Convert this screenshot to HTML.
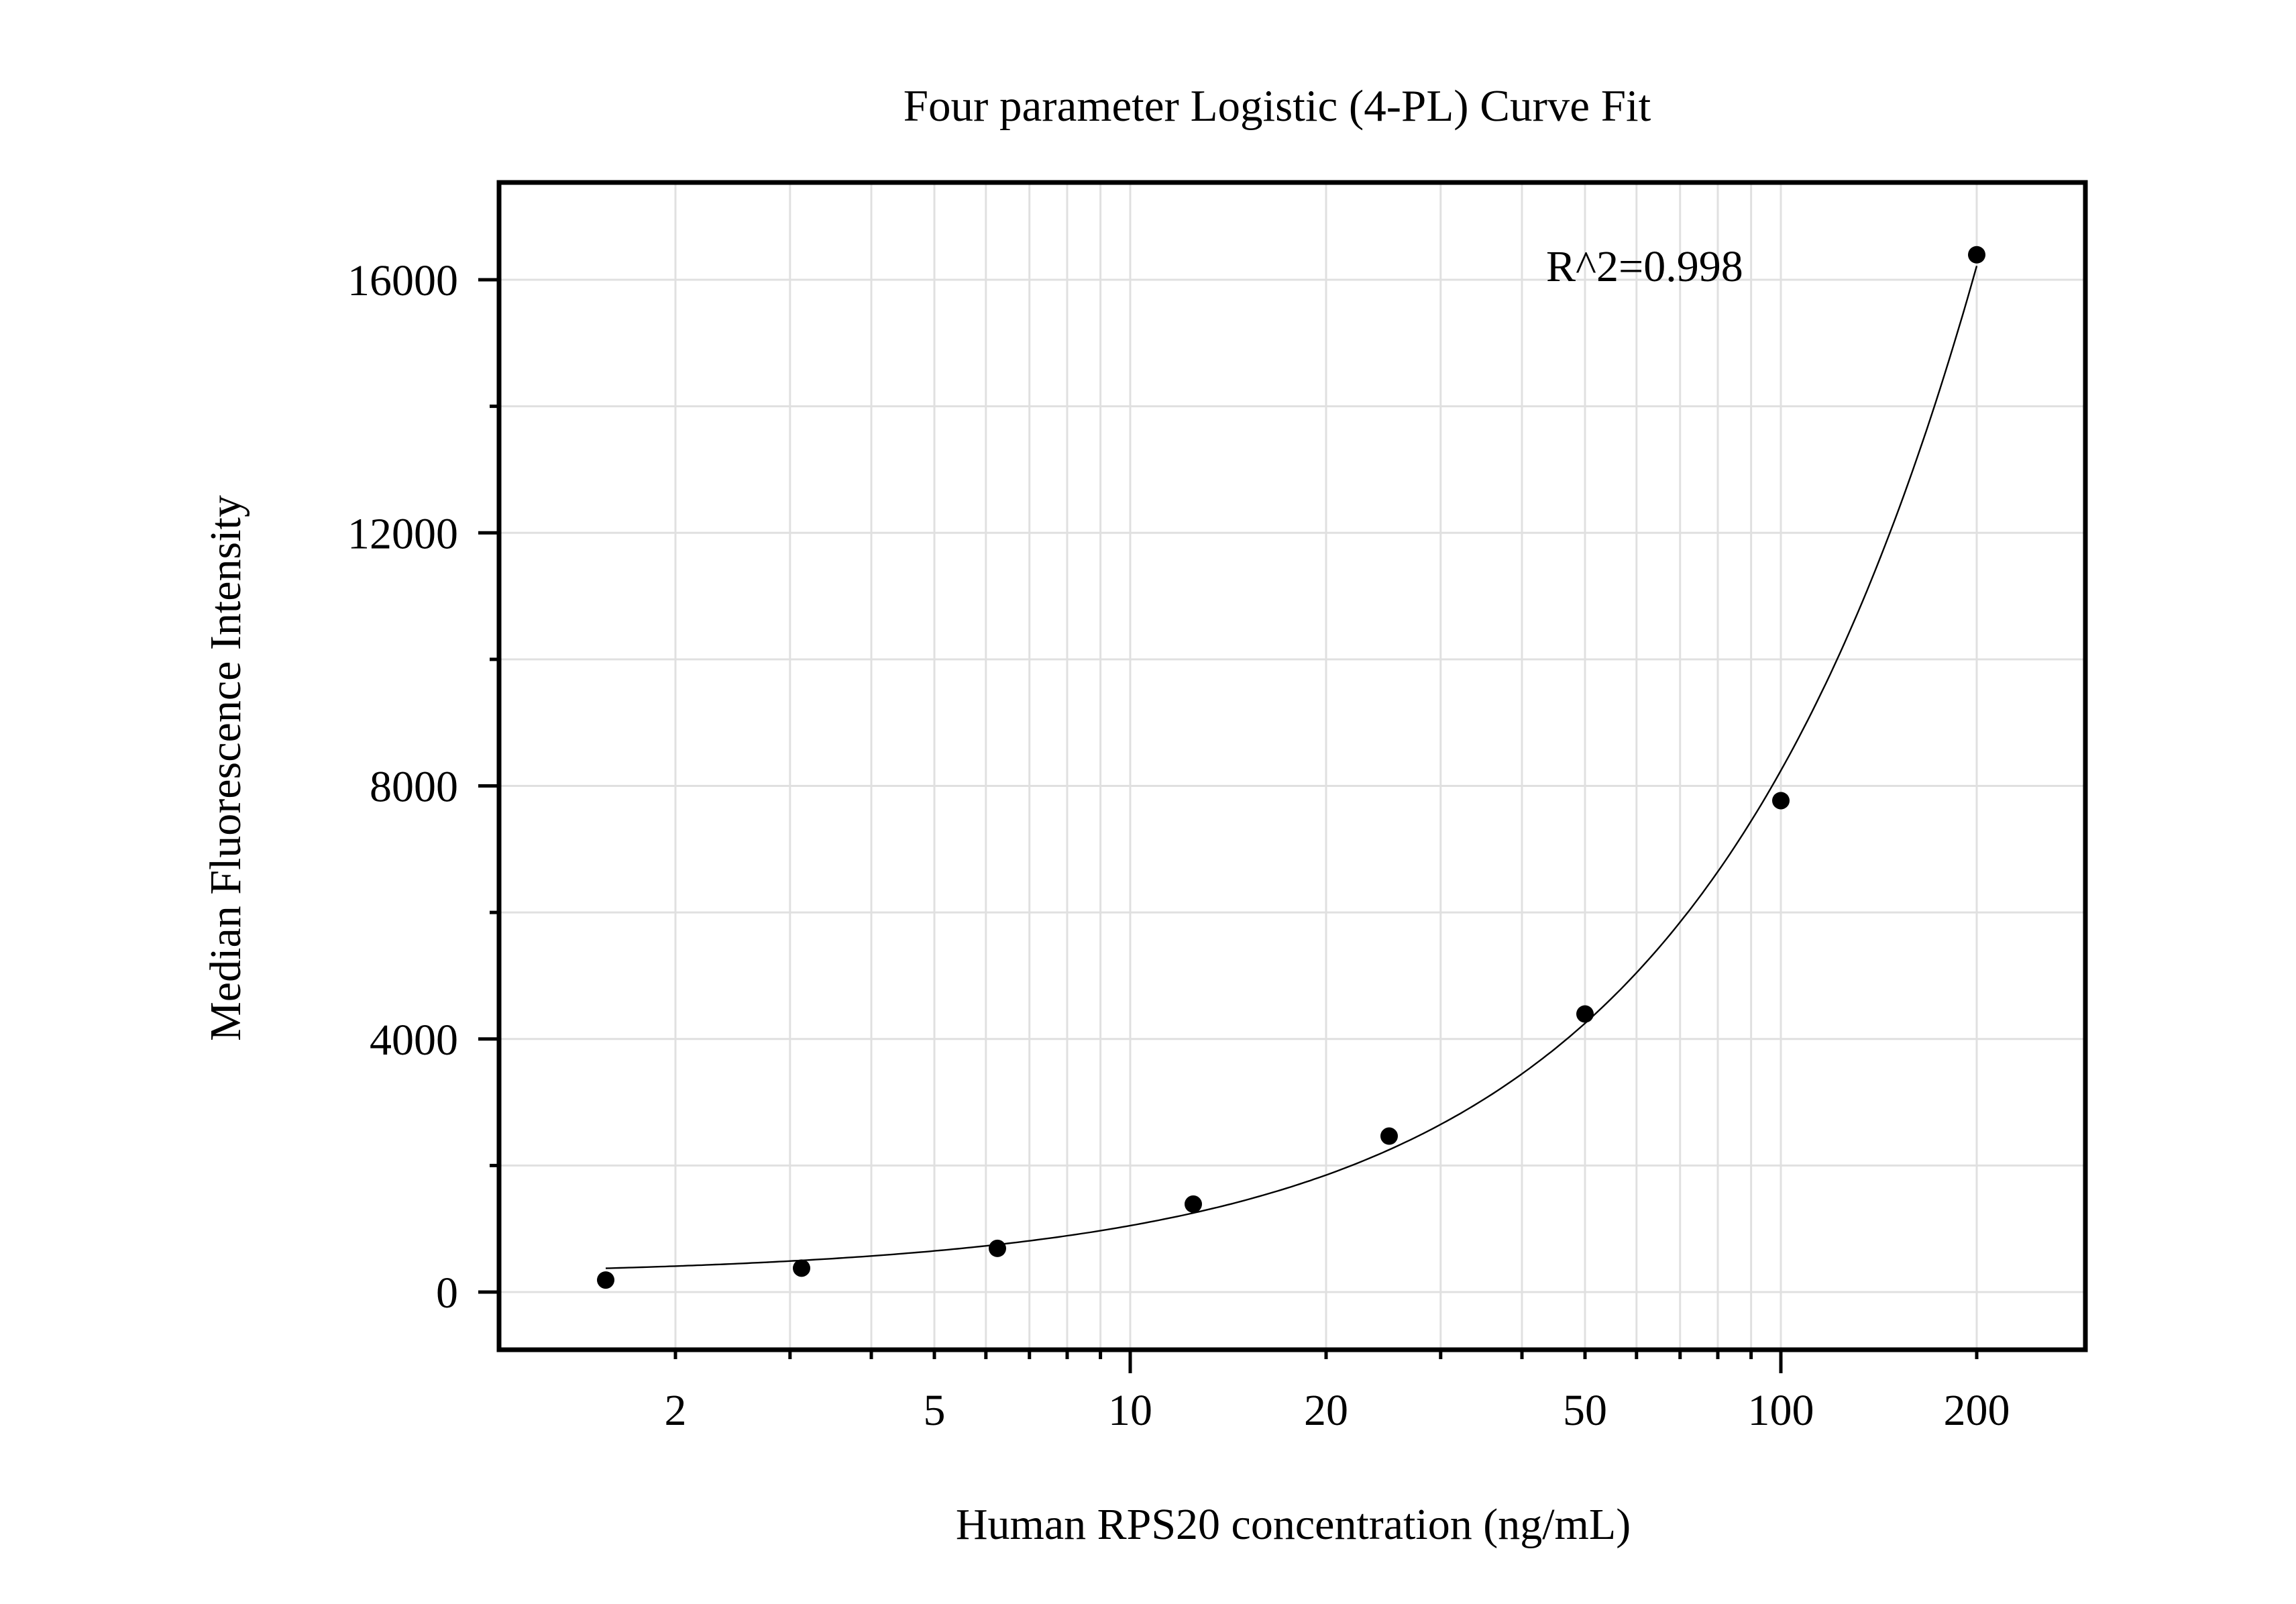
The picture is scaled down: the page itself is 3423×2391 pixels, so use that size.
<!DOCTYPE html>
<html><head><meta charset="utf-8"><style>
html,body{margin:0;padding:0;background:#fff;}
svg{display:block;font-family:"Liberation Serif",serif;}
</style></head><body>
<svg id="chart" width="3423" height="2391" viewBox="0 0 3423 2391" xmlns="http://www.w3.org/2000/svg">
<rect x="0" y="0" width="3423" height="2391" fill="#fff"/>
<g id="grid"></g>
<g id="ticks"></g>
<g id="curve"></g>
<g id="points"></g>
<rect x="744" y="272" width="2365" height="1740" fill="none" stroke="#000" stroke-width="7"/>
<text x="1904" y="180" font-size="67" text-anchor="middle">Four parameter Logistic (4-PL) Curve Fit</text>
<text x="1928" y="2294" font-size="66" text-anchor="middle">Human RPS20 concentration (ng/mL)</text>
<text x="0" y="0" font-size="66" text-anchor="middle" transform="translate(358,1145) rotate(-90)">Median Fluorescence Intensity</text>
<text x="2305" y="419" font-size="66">R^2=0.998</text>
</svg>
<script>
const concentrations = [1.5625, 3.125, 6.25, 12.5, 25, 50, 100, 200];
const mfiValues = [190, 378, 690, 1390, 2465, 4395, 7767, 16395];
const fitA = 250;
const fitB = 1.0;
const fitC = 100000;
const fitD = 8000250;
const yTickValues = [0, 4000, 8000, 12000, 16000];
const yMinorValues = [2000, 6000, 10000, 14000];
const xTickLabels = ["2", "5", "10", "20", "50", "100", "200"];
const xMinorValues = [2,3,4,5,6,7,8,9,20,30,40,50,60,70,80,90,200];
const xMajorValues = [10, 100];

const NS = "http://www.w3.org/2000/svg";
const L = 744, R = 3109, T = 272, B = 2012;
function xs(v){ return 1685 + (Math.log10(v) - 1) * 970; }
function ys(v){ return 1926 - v * (1509 / 16000); }
function mk(tag, attrs, parent){
  const e = document.createElementNS(NS, tag);
  for (const k in attrs) e.setAttribute(k, attrs[k]);
  parent.appendChild(e);
  return e;
}
const grid = document.getElementById('grid');
const ticks = document.getElementById('ticks');
[...yTickValues, ...yMinorValues].forEach(v => {
  const l = mk('line', {x1:L, x2:R, y1:ys(v), y2:ys(v), stroke:'#e0e0e0', 'stroke-width':3}, grid);
  
  
});
[...xMinorValues, ...xMajorValues].forEach(v => {
  const l = mk('line', {x1:xs(v), x2:xs(v), y1:T, y2:B, stroke:'#e0e0e0', 'stroke-width':3}, grid);
  
  
});
yTickValues.forEach(v => {
  const l = mk('line', {x1:L-31, x2:L, y1:ys(v), y2:ys(v), stroke:'#000', 'stroke-width':5}, ticks);
  
  
  const t = mk('text', {x:683, y:ys(v)+23, 'font-size':66, 'text-anchor':'end'}, ticks);
  t.textContent = String(v);
  
  
});
yMinorValues.forEach(v => {
  const l = mk('line', {x1:L-14, x2:L, y1:ys(v), y2:ys(v), stroke:'#000', 'stroke-width':5}, ticks);
  
  
});
xMinorValues.forEach(v => {
  const l = mk('line', {x1:xs(v), x2:xs(v), y1:B, y2:B+14, stroke:'#000', 'stroke-width':5}, ticks);
  
  
});
xMajorValues.forEach(v => {
  const l = mk('line', {x1:xs(v), x2:xs(v), y1:B, y2:B+35, stroke:'#000', 'stroke-width':5}, ticks);
  
  
});
xTickLabels.forEach(s => {
  const t = mk('text', {x:xs(parseFloat(s)), y:2124, 'font-size':66, 'text-anchor':'middle'}, ticks);
  t.textContent = s;
  
  
});
function fit(x){ return fitD + (fitA - fitD) / (1 + Math.pow(x / fitC, fitB)); }
let d = '';
const x0 = Math.log10(concentrations[0]), x1 = Math.log10(concentrations[concentrations.length-1]);
for (let i = 0; i <= 300; i++){
  const lx = x0 + (x1 - x0) * i / 300;
  const v = Math.pow(10, lx);
  d += (i ? 'L' : 'M') + xs(v).toFixed(1) + ',' + ys(fit(v)).toFixed(1);
}
const path = mk('path', {d:d, fill:'none', stroke:'#000', 'stroke-width':2.4}, document.getElementById('curve'));


concentrations.forEach((c, i) => {
  const p = mk('circle', {cx:xs(c), cy:ys(mfiValues[i]), r:13, fill:'#000'}, document.getElementById('points'));
  
  
});
</script>
</body></html>
